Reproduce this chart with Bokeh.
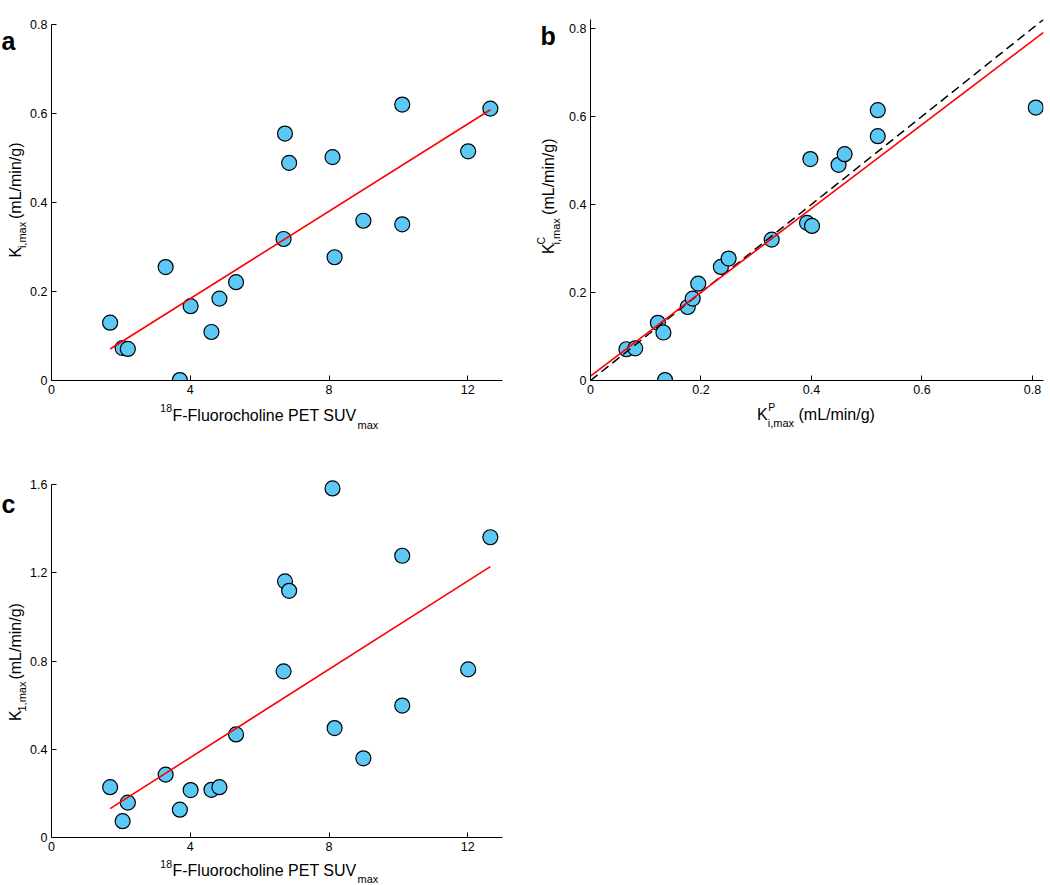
import math
from bokeh.plotting import figure
from bokeh.models import FixedTicker, Range1d
from bokeh.core.properties import value
from bokeh.layouts import column, row
from bokeh.embed import file_html
from bokeh.resources import INLINE

# ---------------- data ----------------
# Panels a and c: 18F-Fluorocholine PET SUVmax
suv_max = [1.69, 2.05, 2.20, 3.29, 3.70, 4.01, 4.61, 4.84, 5.32, 6.73,
           6.69, 6.85, 8.10, 8.16, 8.99, 10.11, 10.11, 12.01, 12.65]
ki_max = [0.130, 0.073, 0.071, 0.255, 0.001, 0.167, 0.109, 0.184, 0.221, 0.555,
          0.318, 0.489, 0.502, 0.277, 0.359, 0.620, 0.351, 0.515, 0.611]
k1_max = [0.228, 0.074, 0.158, 0.285, 0.126, 0.215, 0.216, 0.228, 0.467, 1.161,
          0.753, 1.118, 1.582, 0.496, 0.359, 1.277, 0.598, 0.762, 1.361]
# Panel b: Ki,max (P) vs Ki,max (C)
ki_max_p = [0.065, 0.081, 0.122, 0.132, 0.135, 0.176, 0.185, 0.195, 0.236, 0.250,
            0.328, 0.392, 0.401, 0.398, 0.449, 0.460, 0.520, 0.520, 0.806]
ki_max_c = [0.071, 0.073, 0.131, 0.109, 0.001, 0.167, 0.186, 0.220, 0.258, 0.277,
            0.320, 0.358, 0.351, 0.503, 0.490, 0.514, 0.555, 0.614, 0.620]

# regression lines (slope, intercept)
fit_a = (0.04907, -0.0122)
fit_b = (0.952, 0.010)
fit_c = (0.1001, -0.0382)
fit_b_x = [0.0, 0.82]
identity_x = [0.0, 0.82]

# ticks
xticks_suv = [0, 4, 8, 12]
xlabels_suv = ["0", "4", "8", "12"]
yticks_ki = [0, 0.2, 0.4, 0.6, 0.8]
ylabels_ki = ["0", "0.2", "0.4", "0.6", "0.8"]
yticks_k1 = [0, 0.4, 0.8, 1.2, 1.6]
ylabels_k1 = ["0", "0.4", "0.8", "1.2", "1.6"]

# ---------------- style ----------------
FONT = "Liberation Sans"
PT_FILL = "#5BC8F5"
MAIN = 16
SMALL = 11
SUP = 10.5
ROT = math.pi / 2
UNIT = "(mL/min/g)"

ARIAL = {' ': 278, '(': 333, ')': 333, '/': 278, ',': 278, '-': 333, '.': 278,
         'A': 667, 'C': 722, 'E': 667, 'F': 611, 'K': 667, 'L': 556, 'P': 667,
         'S': 667, 'T': 611, 'U': 722, 'V': 667,
         'a': 556, 'c': 500, 'e': 556, 'g': 556, 'h': 556, 'i': 222, 'l': 222,
         'm': 833, 'n': 556, 'o': 556, 'r': 333, 'u': 556, 'x': 500}


def tw(s, size):
    return sum(ARIAL.get(ch, 556) for ch in s) * size / 1000.0


def make_fig(w, h, bl, br, bt, bb, xr, yr, xt, xl, yt, yl, ytop=None):
    yend = yr[1] if ytop is None else ytop
    p = figure(width=w, height=h, output_backend="svg", toolbar_location=None,
               x_range=Range1d(*xr), y_range=Range1d(yr[0], yend))
    p.min_border_left = bl
    p.min_border_right = br
    p.min_border_top = bt
    p.min_border_bottom = bb
    p.outline_line_color = None
    p.xgrid.visible = False
    p.ygrid.visible = False
    p.background_fill_color = "white"
    p.border_fill_color = "white"
    p.xaxis.ticker = FixedTicker(ticks=xt)
    p.xaxis.major_label_overrides = {t: s for t, s in zip(xt, xl)}
    p.yaxis.ticker = FixedTicker(ticks=yt)
    p.yaxis.major_label_overrides = {t: s for t, s in zip(yt, yl)}
    p.xaxis.bounds = tuple(xr)
    p.yaxis.bounds = tuple(yr)
    for ax in (p.xaxis[0], p.yaxis[0]):
        ax.major_tick_in = 5
        ax.major_tick_out = 0
        ax.minor_tick_line_color = None
        ax.axis_line_color = "black"
        ax.axis_line_width = 1
        ax.major_tick_line_color = "black"
        ax.major_label_text_font = FONT
        ax.major_label_text_font_size = "12.5px"
        ax.major_label_text_color = "black"
    p.xaxis.major_label_standoff = 4
    p.yaxis.major_label_standoff = 4
    return p


class Strip:
    """A blank figure used as a text strip; positions are given in page pixels."""

    def __init__(self, ox, oy, w, h):
        self.ox, self.oy = ox, oy
        self.p = figure(width=w, height=h, output_backend="svg", toolbar_location=None,
                        x_range=Range1d(0, w), y_range=Range1d(h, 0),
                        x_axis_location=None, y_axis_location=None, min_border=0)
        self.p.grid.visible = False
        self.p.outline_line_color = None
        self.p.background_fill_color = "white"
        self.p.border_fill_color = "white"

    def text(self, x, y, t, size, angle=0.0, align="left", bold=False):
        self.p.text(x=[x - self.ox], y=[y - self.oy], text=[t],
                    text_font=value(FONT), text_font_size=value(f"{size}px"),
                    text_align=value(align), text_baseline=value("alphabetic"),
                    text_font_style=value("bold" if bold else "normal"),
                    angle=angle, text_color="black")


def points(p, xs, ys):
    p.scatter(xs, ys, size=15, fill_color=PT_FILL, line_color="black", line_width=1.2)


def fit_line(p, fit, xs):
    m, b = fit
    p.line(xs, [m * x + b for x in xs], line_color="#FF0000", line_width=1.6)


def suv_xlabel(st, cx, base, dsup=8, dsub=9):
    wm = tw("F-Fluorocholine PET SUV", MAIN)
    st.text(cx, base, "F-Fluorocholine PET SUV", MAIN, align="center")
    st.text(cx - wm / 2 - 0.5, base - dsup, "18", SUP, align="right")
    st.text(cx + wm / 2 + 1, base + dsub, "max", SMALL)


def k_ylabel(st, cy, xb, sub, sup=None, dsub=6.5):
    wk = tw("K", MAIN)
    wsub = tw(sub, SMALL)
    wsup = tw(sup, SUP) if sup else 0
    wsp = tw(" ", MAIN) + 2
    wrest = tw(UNIT, MAIN)
    L = wk + max(wsub, wsup) + wsp + wrest
    yb = cy + L / 2          # page y of the bottom end of the rotated label
    st.text(xb, yb, "K", MAIN, angle=ROT)
    st.text(xb + dsub, yb - wk, sub, SMALL, angle=ROT)
    if sup:
        st.text(xb - 8, yb - wk, sup, SUP, angle=ROT)
    st.text(xb, yb - wk - max(wsub, wsup) - wsp, UNIT, MAIN, angle=ROT)


# ---------------- panel a ----------------
pa = make_fig(500, 400, 22, 25, 24, 20, (0, 13), (0, 0.8),
              xticks_suv, xlabels_suv, yticks_ki, ylabels_ki)
points(pa, suv_max, ki_max)
fit_line(pa, fit_a, [min(suv_max), max(suv_max)])
ya = Strip(0, 0, 27, 400)
k_ylabel(ya, 202, 15, "i,max")
ya.text(1, 18.5, "a", 25, bold=True)
xa = Strip(0, 400, 527, 44)
suv_xlabel(xa, 264, 415)

# ---------------- panel b ----------------
pb = make_fig(483, 400, 22, 6, 19, 20, (0, 0.82), (0, 0.82),
              yticks_ki, ylabels_ki, yticks_ki, ylabels_ki)
points(pb, ki_max_p, ki_max_c)
pb.line(identity_x, identity_x, line_color="black", line_width=1.5, line_dash="9 5")
fit_line(pb, fit_b, fit_b_x)
yb_ = Strip(527, 0, 39, 400)
k_ylabel(yb_, 200, 548, "i,max", sup="C", dsub=7.5)
yb_.text(540, 18.5, "b", 25, bold=True)
xb_ = Strip(527, 400, 522, 44)
wk = tw("K", MAIN)
wsub = tw("i,max", SMALL)
wsp = tw(" ", MAIN)
wrest = tw(UNIT, MAIN)
x0 = 815.5 - (wk + wsub + wsp + wrest) / 2
xb_.text(x0, 414, "K", MAIN)
xb_.text(x0 + wk + 0.5, 406, "P", SUP)
xb_.text(x0 + wk, 422, "i,max", SMALL)
xb_.text(x0 + wk + wsub + wsp, 414, UNIT, MAIN)

# ---------------- panel c ----------------
# frame top is 8 px above the 1.6 tick so the top point is not clipped
c_frame_h = 361
c_top = 1.6 + 8 * 1.6 / (c_frame_h - 8)
pc = make_fig(500, 411, 22, 25, 32, 18, (0, 13), (0, 1.6),
              xticks_suv, xlabels_suv, yticks_k1, ylabels_k1, ytop=c_top)
points(pc, suv_max, k1_max)
fit_line(pc, fit_c, [min(suv_max), max(suv_max)])
yc = Strip(0, 444, 27, 411)
k_ylabel(yc, 660.5, 15, "1,max")
yc.text(1, 475, "c", 25, bold=True)
xc = Strip(0, 855, 527, 29)
suv_xlabel(xc, 264, 870, dsup=7, dsub=8)

layout = column(
    row(column(row(ya.p, pa), xa.p), column(row(yb_.p, pb), xb_.p)),
    column(row(yc.p, pc), xc.p),
)
open("out.html", "w").write(file_html(layout, INLINE))
